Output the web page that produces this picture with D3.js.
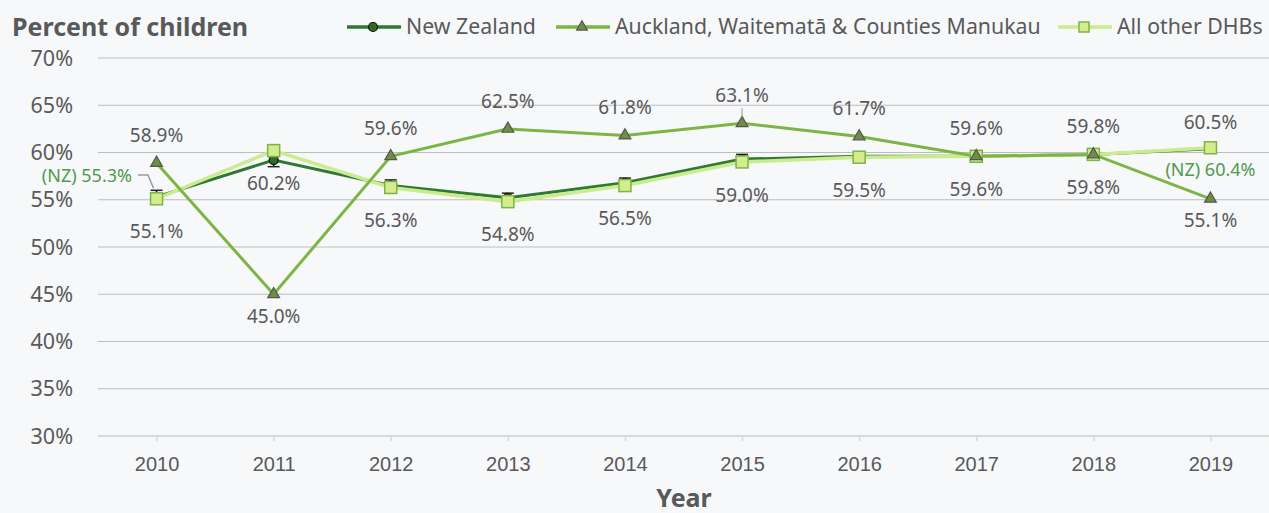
<!DOCTYPE html>
<html>
<head>
<meta charset="utf-8">
<script src="https://cdn.jsdelivr.net/npm/d3@7"></script>
<style>
  html, body { margin: 0; padding: 0; background: #f7f8fa; }
  svg { display: block; font-family: "Noto Sans", Lato, sans-serif; }
</style>
</head>
<body>
<div id="chart"></div>
<script>
// chart values
const years = ['2010', '2011', '2012', '2013', '2014', '2015', '2016', '2017', '2018', '2019'];
const nz = [55.3, 59.2, 56.5, 55.2, 56.8, 59.3, 59.6, 59.6, 59.8, 60.4];
const nzCI = [0.7, 0.7, 0.6, 0.5, 0.5, 0.5, 0.4, 0.4, 0.3, 0.4];
const akl = [58.9, 45.0, 59.6, 62.5, 61.8, 63.1, 61.7, 59.6, 59.8, 55.1];
const other = [55.1, 60.2, 56.3, 54.8, 56.5, 59.0, 59.5, 59.6, 59.8, 60.5];
const aklSide = ['up', 'down', 'up', 'up', 'up', 'up', 'up', 'up', 'up', 'down'];
const otherSide = ['down', 'down', 'down', 'down', 'down', 'down', 'down', 'down', 'down', 'up'];
const yTicks = [30, 35, 40, 45, 50, 55, 60, 65, 70];
const seriesNames = ['New Zealand', 'Auckland, Waitematā & Counties Manukau', 'All other DHBs'];

const W = 1269, H = 513;
const margin = { t: 58, r: 0, b: 77, l: 98 };
const c = { nz: '#2f7a32', akl: '#7db544', other: '#cbeb8f', text: '#595959', grid: '#bdbdbd', nzLabel: '#4f9a4f' };

const svg = d3.select('#chart').append('svg').attr('width', W).attr('height', H);

const x = d3.scalePoint().domain(years).range([margin.l, W - margin.r]).padding(0.5);
const y = d3.scaleLinear().domain([30, 70]).range([H - margin.b, margin.t]);

// grid + y labels
svg.append('g').selectAll('line').data(yTicks).join('line')
  .attr('x1', margin.l).attr('x2', W).attr('y1', d => y(d)).attr('y2', d => y(d))
  .attr('stroke', d => d === 30 ? '#d9d9d9' : c.grid).attr('stroke-width', d => d === 30 ? 2 : 1.2);
svg.append('g').selectAll('text').data(yTicks).join('text')
  .attr('x', 73).attr('y', d => y(d)).attr('dy', '0.35em').attr('text-anchor', 'end')
  .attr('fill', c.text).attr('font-size', 21.5).text(d => d + '%');

// x axis
const xAxis = svg.append('g').attr('transform', `translate(0,${y(30)})`)
  .call(d3.axisBottom(x).tickSize(5).tickPadding(16));
xAxis.select('.domain').remove();
xAxis.selectAll('line').attr('stroke', '#d9d9d9').attr('stroke-width', 1.5);
xAxis.selectAll('text').attr('fill', c.text).attr('font-size', 20).attr('font-family', null);

svg.append('text').attr('x', 684).attr('y', 507).attr('text-anchor', 'middle')
  .attr('font-size', 25).attr('font-weight', 700).attr('fill', c.text).text('Year');
svg.append('text').attr('x', 12).attr('y', 36)
  .attr('font-size', 25).attr('font-weight', 700).attr('fill', c.text).text('Percent of children');

// lines
const line = d3.line().x((d, i) => x(years[i])).y(d => y(d));
svg.append('path').attr('d', line(nz)).attr('fill', 'none').attr('stroke', c.nz).attr('stroke-width', 3);
svg.append('path').attr('d', line(other)).attr('fill', 'none').attr('stroke', c.other).attr('stroke-width', 3.5);
svg.append('path').attr('d', line(akl)).attr('fill', 'none').attr('stroke', c.akl).attr('stroke-width', 3);

// NZ error bars
const eb = svg.append('g').attr('stroke', '#222').attr('stroke-width', 1.5);
nz.forEach((v, i) => {
  const cx = x(years[i]), y0 = y(v - nzCI[i]), y1 = y(v + nzCI[i]);
  eb.append('line').attr('x1', cx).attr('x2', cx).attr('y1', y0).attr('y2', y1);
  eb.append('line').attr('x1', cx - 6).attr('x2', cx + 6).attr('y1', y0).attr('y2', y0);
  eb.append('line').attr('x1', cx - 6).attr('x2', cx + 6).attr('y1', y1).attr('y2', y1);
});

// markers
const tri = d3.symbol().type(d3.symbolTriangle).size(60);
svg.append('g').selectAll('circle').data(nz).join('circle')
  .attr('cx', (d, i) => x(years[i])).attr('cy', d => y(d)).attr('r', 4.5)
  .attr('fill', '#2f6b22').attr('stroke', '#111').attr('stroke-width', 1.2);
svg.append('g').selectAll('rect').data(other).join('rect')
  .attr('x', (d, i) => x(years[i]) - 6).attr('y', d => y(d) - 6).attr('width', 12).attr('height', 12)
  .attr('fill', '#d2ec8e').attr('stroke', '#7db544').attr('stroke-width', 1.5);
svg.append('g').selectAll('path').data(akl).join('path')
  .attr('transform', (d, i) => `translate(${x(years[i])},${y(d)})`).attr('d', tri)
  .attr('fill', '#6e8f42').attr('stroke', '#555').attr('stroke-width', 1.2);

// value labels
const fmt = d => d.toFixed(1) + '%';
const lbl = svg.append('g').attr('font-size', 19).attr('fill', c.text).attr('text-anchor', 'middle');
akl.forEach((v, i) => {
  lbl.append('text').attr('x', x(years[i])).attr('y', y(v) + (aklSide[i] === 'up' ? -28 : 22))
    .attr('dy', '0.35em').text(fmt(v));
});
other.forEach((v, i) => {
  lbl.append('text').attr('x', x(years[i])).attr('y', y(v) + (otherSide[i] === 'up' ? -25 : 33))
    .attr('dy', '0.35em').text(fmt(v));
});

// NZ first/last labels
const first = 0, last = years.length - 1;
svg.append('text').attr('x', 132).attr('y', y(nz[first]) - 21).attr('dy', '0.35em')
  .attr('text-anchor', 'end').attr('font-size', 18).attr('fill', c.nzLabel).text('(NZ) ' + fmt(nz[first]));
svg.append('path')
  .attr('d', `M138,${y(nz[first]) - 22}H148L${x(years[first]) - 3},${y(nz[first] + nzCI[first]) - 2}`)
  .attr('fill', 'none').attr('stroke', '#999').attr('stroke-width', 1.5);
svg.append('text').attr('x', x(years[last])).attr('y', y(nz[last]) + 21).attr('dy', '0.35em')
  .attr('text-anchor', 'middle').attr('font-size', 18).attr('fill', c.nzLabel).text('(NZ) ' + fmt(nz[last]));
// small leader at 2015
svg.append('line').attr('x1', x('2015')).attr('x2', x('2015'))
  .attr('y1', y(akl[5]) - 15).attr('y2', y(akl[5]) - 6).attr('stroke', '#999').attr('stroke-width', 1);

// legend
const legend = svg.append('g').attr('font-size', 21.3).attr('fill', c.text);
const legendX = [347, 556, 1058];
[c.nz, c.akl, c.other].forEach((col, i) => {
  const g = legend.append('g').attr('transform', `translate(${legendX[i]},27)`);
  g.append('line').attr('x1', 0).attr('x2', 54).attr('stroke', col).attr('stroke-width', 3.5);
  if (i === 0) g.append('circle').attr('cx', 26).attr('r', 4.5).attr('fill', '#2f6b22').attr('stroke', '#111').attr('stroke-width', 1.2);
  if (i === 1) g.append('path').attr('transform', 'translate(26,0)').attr('d', d3.symbol().type(d3.symbolTriangle).size(50))
    .attr('fill', '#6e8f42').attr('stroke', '#555').attr('stroke-width', 1.2);
  if (i === 2) g.append('rect').attr('x', 21).attr('y', -5).attr('width', 10).attr('height', 10)
    .attr('fill', '#d2ec8e').attr('stroke', '#7db544').attr('stroke-width', 1.5);
  g.append('text').attr('x', 59).attr('dy', '0.35em').text(seriesNames[i]);
});
</script>
</body>
</html>
